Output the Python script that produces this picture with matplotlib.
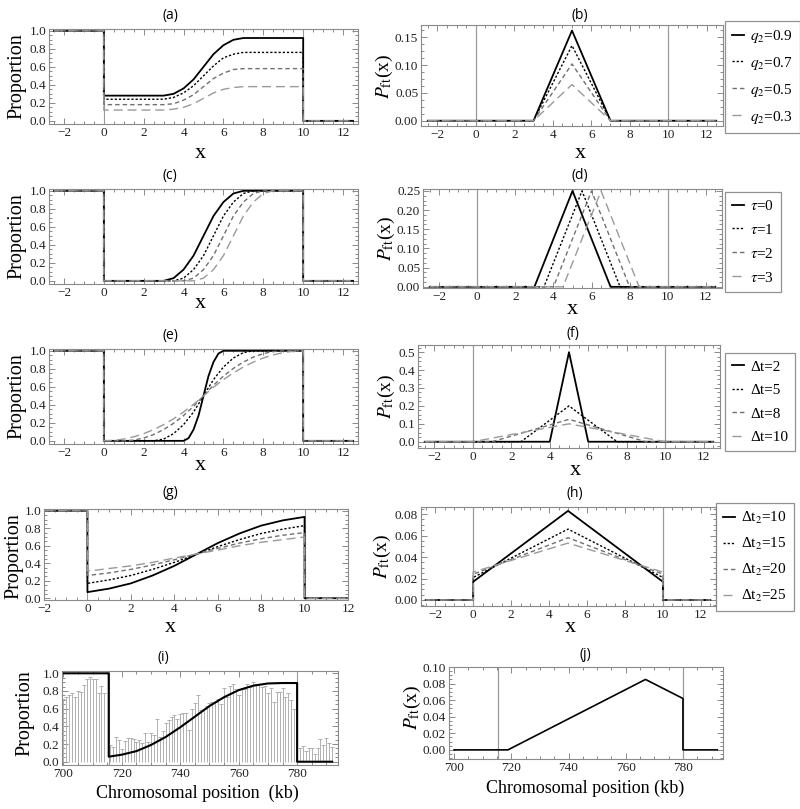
import matplotlib
matplotlib.use('Agg')
import matplotlib.pyplot as plt
from matplotlib.ticker import MultipleLocator, AutoMinorLocator, FormatStrFormatter
from matplotlib.lines import Line2D

plt.rcParams['font.family'] = ['Liberation Serif', 'DejaVu Serif']
plt.rcParams['mathtext.fontset'] = 'stix'

# ---------------- data ----------------
x_left, x_right = -2.5, 12.5
left_level, right_level = 1.0, 0.0

# (a) proportion curves for q2 = 0.9, 0.7, 0.5, 0.3
a_x = [0, 3, 3.5, 4, 4.5, 5, 5.5, 6, 6.5, 7, 10]
a_q09 = [0.28, 0.28, 0.30, 0.36, 0.46, 0.60, 0.74, 0.84, 0.90, 0.92, 0.92]
a_q07 = [0.24, 0.24, 0.26, 0.31, 0.39, 0.50, 0.61, 0.70, 0.74, 0.76, 0.76]
a_q05 = [0.18, 0.18, 0.19, 0.23, 0.29, 0.38, 0.47, 0.53, 0.57, 0.58, 0.58]
a_q03 = [0.12, 0.12, 0.13, 0.15, 0.19, 0.25, 0.31, 0.35, 0.37, 0.38, 0.38]
labels_b = [r'$q_2$=0.9', r'$q_2$=0.7', r'$q_2$=0.5', r'$q_2$=0.3']

# (b) triangular P_ft
b_x = [-2.5, 3, 5, 7, 12.5]
b_peaks = [0.162, 0.135, 0.102, 0.065]

# (c) proportion curves for tau = 0..3 (common grid)
c_x = [0, 0.5, 1, 1.5, 2, 2.5, 3, 3.5, 4, 4.5, 5, 5.5, 6, 6.5, 7, 7.5, 8, 8.5, 9, 9.5, 10]
c_t0 = [0, 0, 0, 0, 0, 0, 0, 0.03, 0.125, 0.28, 0.5, 0.72, 0.875, 0.97, 1, 1, 1, 1, 1, 1, 1]
c_t1 = [0, 0, 0, 0, 0, 0, 0, 0, 0.03, 0.125, 0.28, 0.5, 0.72, 0.875, 0.97, 1, 1, 1, 1, 1, 1]
c_t2 = [0, 0, 0, 0, 0, 0, 0, 0, 0, 0.03, 0.125, 0.28, 0.5, 0.72, 0.875, 0.97, 1, 1, 1, 1, 1]
c_t3 = [0, 0, 0, 0, 0, 0, 0, 0, 0, 0, 0.03, 0.125, 0.28, 0.5, 0.72, 0.875, 0.97, 1, 1, 1, 1]
labels_d = [r'$\tau$=0', r'$\tau$=1', r'$\tau$=2', r'$\tau$=3']

# (d) triangles: start, peak, end, height
d_start = [3, 3.5, 4, 4.5]
d_peak = [5, 5.5, 6, 6.5]
d_end = [7, 7.5, 8, 8.5]
d_height = [0.25, 0.25, 0.25, 0.25]

# (e) proportion curves for dt = 2, 5, 8, 10
e_x2 = [0, 4, 4.25, 4.5, 4.75, 5, 5.25, 5.5, 5.75, 6, 10]
e_y2 = [0, 0, 0.03, 0.125, 0.28, 0.5, 0.72, 0.875, 0.97, 1, 1]
e_x5 = [0, 2.5, 3, 3.5, 4, 4.5, 5, 5.5, 6, 6.5, 7, 7.5, 10]
e_y5 = [0, 0, 0.02, 0.08, 0.18, 0.32, 0.5, 0.68, 0.82, 0.92, 0.98, 1, 1]
e_x8 = [0, 1, 1.5, 2, 2.5, 3, 3.5, 4, 4.5, 5, 5.5, 6, 6.5, 7, 7.5, 8, 8.5, 9, 10]
e_y8 = [0, 0, 0.008, 0.031, 0.07, 0.125, 0.195, 0.281, 0.383, 0.5, 0.617, 0.719, 0.805, 0.875, 0.93, 0.969, 0.992, 1, 1]
e_x10 = [0, 0.5, 1, 1.5, 2, 2.5, 3, 3.5, 4, 4.5, 5, 5.5, 6, 6.5, 7, 7.5, 8, 8.5, 9, 9.5, 10]
e_y10 = [0, 0.005, 0.02, 0.045, 0.08, 0.125, 0.18, 0.245, 0.32, 0.405, 0.5, 0.595, 0.68, 0.755, 0.82, 0.875, 0.92, 0.955, 0.98, 0.995, 1]
labels_f = ['Δt=2', 'Δt=5', 'Δt=8', 'Δt=10']

# (f) triangles
f_start = [4, 2.5, 1, 0]
f_peak = [5, 5, 5, 5]
f_end = [6, 7.5, 9, 10]
f_height = [0.5, 0.2, 0.125, 0.1]

# (g) proportion curves for dt2 = 10, 15, 20, 25
g_x = [0, 1, 2, 3, 4, 5, 6, 7, 8, 9, 10]
g_10 = [0.07, 0.11, 0.17, 0.26, 0.37, 0.50, 0.63, 0.74, 0.83, 0.89, 0.93]
g_15 = [0.17, 0.21, 0.26, 0.33, 0.41, 0.50, 0.59, 0.67, 0.74, 0.79, 0.83]
g_20 = [0.26, 0.29, 0.33, 0.38, 0.44, 0.505, 0.57, 0.63, 0.68, 0.72, 0.75]
g_25 = [0.31, 0.34, 0.37, 0.41, 0.46, 0.505, 0.55, 0.60, 0.64, 0.67, 0.70]
labels_h = [r'Δt$_2$=10', r'Δt$_2$=15', r'Δt$_2$=20', r'Δt$_2$=25']

# (h) edge and peak values
h_edge = [0.017, 0.021, 0.024, 0.026]
h_peak = [0.083, 0.066, 0.058, 0.053]

# (i) observed proportions (bars) and fitted curve
i_bar_left = [0.71, 0.73, 0.76, 0.78, 0.73, 0.80, 0.79, 0.87, 0.94, 0.96, 0.93, 0.94, 0.78, 0.86, 0.78]
i_bar_mid = [0.19, 0.17, 0.28, 0.25, 0.14, 0.24, 0.27, 0.27, 0.26, 0.22, 0.25, 0.21, 0.32, 0.22,
             0.32, 0.30, 0.48, 0.28, 0.35, 0.44, 0.47, 0.51, 0.53, 0.48, 0.54, 0.55, 0.55, 0.36,
             0.60, 0.66, 0.76, 0.58, 0.60, 0.63, 0.66, 0.68, 0.67, 0.71, 0.65, 0.83, 0.73, 0.86,
             0.88, 0.82, 0.75, 0.82, 0.82, 0.88, 0.84, 0.90, 0.88, 0.88, 0.84, 0.86, 0.78, 0.83,
             0.68, 0.79, 0.79, 0.83, 0.73, 0.78, 0.70, 0.60]
i_bar_right = [0.16, 0.18, 0.12, 0.15, 0.15, 0.09, 0.16, 0.26, 0.19, 0.27, 0.21, 0.17]
i_pos_left = list(range(700, 715))
i_pos_mid = list(range(716, 780))
i_pos_right = list(range(781, 793))
i_fit_x = [700, 715.5, 715.5, 720, 725, 730, 735, 740, 745, 750, 755, 760, 765, 770, 775, 780, 780, 792]
i_fit_y = [1.0, 1.0, 0.057, 0.08, 0.12, 0.19, 0.28, 0.39, 0.51, 0.63, 0.73, 0.81, 0.86, 0.885, 0.89, 0.89, 0.0, 0.0]
i_bounds = [715.5, 780]

# (j) fitted P_ft
j_x = [700, 718.8, 766.9, 780, 780, 792]
j_y = [0, 0, 0.085, 0.062, 0, 0]

# ---------------- styling ----------------
W, H = 800, 809
fig = plt.figure(figsize=(8, 8.09), dpi=100)

def box(l, t, r, b):
    return [l / W, 1 - b / H, (r - l) / W, (b - t) / H]

styles = [
    dict(color='black', lw=1.3, ls='-'),
    dict(color='black', lw=1.0, ls=(0, (1.6, 1.4))),
    dict(color='#707070', lw=1.0, ls=(0, (3.2, 2.2))),
    dict(color='#9a9a9a', lw=1.0, ls=(0, (6.5, 3.5))),
]
FRAME = '#8a8a8a'
GRIDV = '#9a9a9a'

def style_ax(ax, xmajor, ymajor, yfmt, xminor=4, yminor=4):
    ax.xaxis.set_major_locator(MultipleLocator(xmajor))
    ax.yaxis.set_major_locator(MultipleLocator(ymajor))
    ax.xaxis.set_minor_locator(AutoMinorLocator(xminor))
    ax.yaxis.set_minor_locator(AutoMinorLocator(yminor))
    ax.yaxis.set_major_formatter(FormatStrFormatter(yfmt))
    ax.tick_params(which='both', direction='in', top=True, right=True, color=FRAME,
                   labelsize=9.5, labelcolor='#222222', width=0.7)
    ax.tick_params(which='major', length=4, pad=2)
    ax.tick_params(which='minor', length=2)
    for s in ax.spines.values():
        s.set_color(FRAME)
        s.set_linewidth(0.8)

def ftext(x, y, s, **kw):
    fig.text(x / W, 1 - y / H, s, ha='center', va='center', **kw)

def title(x, y, s):
    ftext(x, y, s, family=['Open Sans', 'DejaVu Sans'], size=10)

def ylab_prop(x, y):
    ftext(x, y, 'Proportion', rotation=90, size=14.5)

def ylab_p(x, y):
    ftext(x, y, r'$P_{\mathrm{ft}}$(x)', rotation=90, size=14)

def xlab(x, y):
    ftext(x, y, 'x', size=16)

def legend(handles_styles, labels, x, y):
    hs = [Line2D([], [], **s) for s in handles_styles]
    leg = fig.legend(hs, labels, loc='upper left', bbox_to_anchor=(x / W, 1 - y / H),
                     bbox_transform=fig.transFigure, frameon=True, fancybox=False,
                     edgecolor='#777777', handlelength=0.8, handletextpad=0.4,
                     labelspacing=0.65, borderpad=0.45, fontsize=11, borderaxespad=0)
    leg.get_frame().set_linewidth(0.9)
    return leg

def prop_curve(ax, xs, ys, st, xl=x_left, xr=x_right):
    ax.plot([xl, xs[0]] + list(xs) + [xs[-1], xr],
            [left_level, left_level] + list(ys) + [right_level, right_level], **st)

# ---- (a)
ax = fig.add_axes(box(49, 29, 358, 124))
for v in (0, 10):
    ax.axvline(v, color=GRIDV, lw=0.8)
for ys, st in zip([a_q09, a_q07, a_q05, a_q03], styles):
    prop_curve(ax, a_x, ys, st)
ax.set_xlim(-2.75, 12.75); ax.set_ylim(-0.035, 1.02)
style_ax(ax, 2, 0.2, '%.1f')
title(170, 15, '(a)'); ylab_prop(17, 76); xlab(200, 153)

# ---- (b)
ax = fig.add_axes(box(421, 25, 723, 126))
for v in (0, 10):
    ax.axvline(v, color=GRIDV, lw=0.9)
for p, st in zip(b_peaks, styles):
    ax.plot(b_x, [0, 0, p, 0, 0], **st)
ax.set_xlim(-2.85, 12.85); ax.set_ylim(-0.0095, 0.172)
style_ax(ax, 2, 0.05, '%.2f')
title(580, 15, '(b)'); ylab_p(384, 76); xlab(580, 153)
legend(styles, labels_b, 725, 21)

# ---- (c)
ax = fig.add_axes(box(49, 189, 358, 284))
for v in (0, 10):
    ax.axvline(v, color=GRIDV, lw=0.8)
for ys, st in zip([c_t0, c_t1, c_t2, c_t3], styles):
    prop_curve(ax, c_x, ys, st)
ax.set_xlim(-2.75, 12.75); ax.set_ylim(-0.035, 1.02)
style_ax(ax, 2, 0.2, '%.1f')
title(170, 175, '(c)'); ylab_prop(17, 236); xlab(200, 304)

# ---- (d)
ax = fig.add_axes(box(423, 189, 722, 288))
for v in (0, 10):
    ax.axvline(v, color=GRIDV, lw=0.9)
for s, pk, e, hgt, st in zip(d_start, d_peak, d_end, d_height, styles):
    ax.plot([x_left, s, pk, e, x_right], [0, 0, hgt, 0, 0], **st)
ax.set_xlim(-2.85, 12.85); ax.set_ylim(-0.003, 0.255)
style_ax(ax, 2, 0.05, '%.2f')
title(580, 175, '(d)'); ylab_p(386, 238); xlab(572, 309)
legend(styles, labels_d, 725, 192)

# ---- (e)
ax = fig.add_axes(box(49, 349, 358, 444))
for v in (0, 10):
    ax.axvline(v, color=GRIDV, lw=0.8)
for xs, ys, st in zip([e_x2, e_x5, e_x8, e_x10], [e_y2, e_y5, e_y8, e_y10], styles):
    prop_curve(ax, xs, ys, st)
ax.set_xlim(-2.75, 12.75); ax.set_ylim(-0.035, 1.02)
style_ax(ax, 2, 0.2, '%.1f')
title(170, 335, '(e)'); ylab_prop(17, 396); xlab(200, 465)

# ---- (f)
ax = fig.add_axes(box(418, 345, 720, 448))
for v in (0, 10):
    ax.axvline(v, color=GRIDV, lw=0.9)
for s, pk, e, hgt, st in zip(f_start, f_peak, f_end, f_height, styles):
    ax.plot([x_left, s, pk, e, x_right], [0, 0, hgt, 0, 0], **st)
ax.set_xlim(-2.85, 12.85); ax.set_ylim(-0.035, 0.54)
style_ax(ax, 2, 0.1, '%.1f')
title(573, 333, '(f)'); ylab_p(386, 396); xlab(575, 470)
legend(styles, labels_f, 725, 353)

# ---- (g)
ax = fig.add_axes(box(44, 509, 348, 600))
for v in (0, 10):
    ax.axvline(v, color=GRIDV, lw=0.8)
for ys, st in zip([g_10, g_15, g_20, g_25], styles):
    prop_curve(ax, g_x, ys, st, xl=-2, xr=12)
ax.set_xlim(-2, 12); ax.set_ylim(-0.02, 1.02)
style_ax(ax, 2, 0.2, '%.1f')
title(170, 493, '(g)'); ylab_prop(14, 556); xlab(170, 628)

# ---- (h)
ax = fig.add_axes(box(421, 507, 716, 606))
for v in (0, 10):
    ax.axvline(v, color=GRIDV, lw=0.9)
for e0, pk, st in zip(h_edge, h_peak, styles):
    ax.plot([x_left, 0, 0, 5, 10, 10, x_right], [0, 0, e0, pk, e0, 0, 0], **st)
ax.set_xlim(-2.75, 12.8); ax.set_ylim(-0.0056, 0.0866)
style_ax(ax, 2, 0.02, '%.2f')
title(575, 493, '(h)'); ylab_p(382, 556); xlab(570, 627)
legend(styles, labels_h, 716, 503)

# ---- (i)
ax = fig.add_axes(box(62, 671, 338, 765))
for v in i_bounds:
    ax.axvline(v, color=GRIDV, lw=0.8)
for pos, hts in ((i_pos_left, i_bar_left), (i_pos_mid, i_bar_mid), (i_pos_right, i_bar_right)):
    ax.vlines(pos, 0, hts, color='#b0b0b0', lw=0.7)
    ax.plot(pos, hts, ls='none', marker='_', ms=2.5, mew=0.7, color='#b0b0b0')
ax.plot(i_fit_x, i_fit_y, color='black', lw=1.5)
ax.set_xlim(699.5, 794); ax.set_ylim(-0.037, 1.026)
style_ax(ax, 20, 0.2, '%.1f', xminor=4, yminor=4)
title(163, 657, '(i)'); ylab_prop(25, 713)
ftext(197, 793, 'Chromosomal position  (kb)', size=13)

# ---- (j)
ax = fig.add_axes(box(449, 667, 723, 759))
for v in i_bounds:
    ax.axvline(v, color=GRIDV, lw=0.9)
ax.plot(j_x, j_y, color='black', lw=1.2)
ax.set_xlim(698.2, 794); ax.set_ylim(-0.011, 0.1)
style_ax(ax, 20, 0.02, '%.2f', xminor=4, yminor=4)
title(585, 655, '(j)'); ylab_p(412, 707)
ftext(585, 788, 'Chromosomal position (kb)', size=13)

fig.savefig('out.png', dpi=100)
